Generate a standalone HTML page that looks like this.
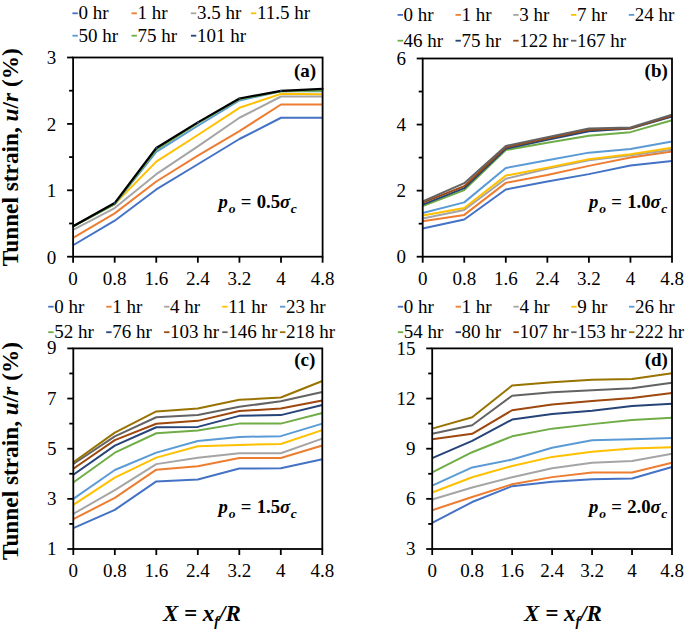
<!DOCTYPE html>
<html><head><meta charset="utf-8"><style>
html,body{margin:0;padding:0;background:#fff;}
svg{display:block;}
.t{font-family:"Liberation Serif",serif;font-size:19px;fill:#000;}
.b{font-family:"Liberation Serif",serif;font-size:19px;font-weight:bold;fill:#000;}
.ax{font-family:"Liberation Serif",serif;font-size:23.3px;font-weight:bold;fill:#000;}
.l{font-family:"Liberation Serif",serif;font-size:19px;fill:#000;}
.p{font-family:"Liberation Serif",serif;font-size:18.7px;font-weight:bold;fill:#000;}
</style></head><body>
<svg width="685" height="632" viewBox="0 0 685 632">
<rect width="685" height="632" fill="#fff"/>
<polyline points="73.1,245.25 114.68,220.68 156.27,189.47 197.85,164.24 239.43,139.01 281.02,117.76 322.6,117.76" fill="none" stroke="#4472C4" stroke-width="2.0" stroke-linejoin="round"/>
<polyline points="73.1,237.94 114.68,213.38 156.27,181.5 197.85,155.61 239.43,131.04 281.02,104.48 322.6,104.48" fill="none" stroke="#ED7D31" stroke-width="2.0" stroke-linejoin="round"/>
<polyline points="73.1,229.98 114.68,208.06 156.27,174.2 197.85,146.31 239.43,117.76 281.02,96.51 322.6,96.51" fill="none" stroke="#A5A5A5" stroke-width="2.0" stroke-linejoin="round"/>
<polyline points="73.1,226.32 114.68,204.08 156.27,161.58 197.85,135.02 239.43,107.8 281.02,93.86 322.6,94.19" fill="none" stroke="#FFC000" stroke-width="2.0" stroke-linejoin="round"/>
<polyline points="73.1,226.32 114.68,204.08 156.27,151.96 197.85,125.73 239.43,100.5 281.02,91.2 322.6,91.2" fill="none" stroke="#5B9BD5" stroke-width="2.0" stroke-linejoin="round"/>
<polyline points="73.1,226.32 114.68,204.08 156.27,149.63 197.85,123.07 239.43,99.17 281.02,91.2 322.6,90.54" fill="none" stroke="#70AD47" stroke-width="2.0" stroke-linejoin="round"/>
<polyline points="73.1,226.32 114.68,203.08 156.27,147.97 197.85,122.41 239.43,98.5 281.02,90.87 322.6,88.88" fill="none" stroke="#000000" stroke-width="2.2" stroke-linejoin="round"/>
<circle cx="73.1" cy="226.32" r="1.1" fill="#264478"/>
<circle cx="114.68" cy="203.08" r="1.1" fill="#264478"/>
<circle cx="156.27" cy="147.97" r="1.1" fill="#264478"/>
<circle cx="197.85" cy="122.41" r="1.1" fill="#264478"/>
<circle cx="239.43" cy="98.5" r="1.1" fill="#264478"/>
<circle cx="281.02" cy="90.87" r="1.1" fill="#264478"/>
<circle cx="322.6" cy="88.88" r="1.1" fill="#264478"/>
<rect x="73.1" y="57.5" width="249.5" height="199.2" fill="none" stroke="#000" stroke-width="1.8"/>
<line x1="67.1" y1="256.7" x2="73.1" y2="256.7" stroke="#000" stroke-width="1.8"/>
<line x1="69.1" y1="223.5" x2="73.1" y2="223.5" stroke="#000" stroke-width="1.8"/>
<line x1="67.1" y1="190.3" x2="73.1" y2="190.3" stroke="#000" stroke-width="1.8"/>
<line x1="69.1" y1="157.1" x2="73.1" y2="157.1" stroke="#000" stroke-width="1.8"/>
<line x1="67.1" y1="123.9" x2="73.1" y2="123.9" stroke="#000" stroke-width="1.8"/>
<line x1="69.1" y1="90.7" x2="73.1" y2="90.7" stroke="#000" stroke-width="1.8"/>
<line x1="67.1" y1="57.5" x2="73.1" y2="57.5" stroke="#000" stroke-width="1.8"/>
<line x1="73.1" y1="256.7" x2="73.1" y2="262.7" stroke="#000" stroke-width="1.8"/>
<line x1="114.68" y1="256.7" x2="114.68" y2="262.7" stroke="#000" stroke-width="1.8"/>
<line x1="156.27" y1="256.7" x2="156.27" y2="262.7" stroke="#000" stroke-width="1.8"/>
<line x1="197.85" y1="256.7" x2="197.85" y2="262.7" stroke="#000" stroke-width="1.8"/>
<line x1="239.43" y1="256.7" x2="239.43" y2="262.7" stroke="#000" stroke-width="1.8"/>
<line x1="281.02" y1="256.7" x2="281.02" y2="262.7" stroke="#000" stroke-width="1.8"/>
<line x1="322.6" y1="256.7" x2="322.6" y2="262.7" stroke="#000" stroke-width="1.8"/>
<text x="56.3" y="263.6" text-anchor="end" class="t">0</text>
<text x="56.3" y="197.2" text-anchor="end" class="t">1</text>
<text x="56.3" y="130.8" text-anchor="end" class="t">2</text>
<text x="56.3" y="64.4" text-anchor="end" class="t">3</text>
<text x="73.1" y="285" text-anchor="middle" class="t">0</text>
<text x="114.68" y="285" text-anchor="middle" class="t">0.8</text>
<text x="156.27" y="285" text-anchor="middle" class="t">1.6</text>
<text x="197.85" y="285" text-anchor="middle" class="t">2.4</text>
<text x="239.43" y="285" text-anchor="middle" class="t">3.2</text>
<text x="281.02" y="285" text-anchor="middle" class="t">4</text>
<text x="322.6" y="285" text-anchor="middle" class="t">4.8</text>
<line x1="72.4" y1="13.3" x2="77.8" y2="13.3" stroke="#4472C4" stroke-width="1.8"/>
<text x="78.4" y="19.3" class="l">0 hr</text>
<line x1="131.5" y1="13.3" x2="136.9" y2="13.3" stroke="#ED7D31" stroke-width="1.8"/>
<text x="137.5" y="19.3" class="l">1 hr</text>
<line x1="190.9" y1="13.3" x2="196.3" y2="13.3" stroke="#A5A5A5" stroke-width="1.8"/>
<text x="196.9" y="19.3" class="l">3.5 hr</text>
<line x1="250.9" y1="13.3" x2="256.3" y2="13.3" stroke="#FFC000" stroke-width="1.8"/>
<text x="256.9" y="19.3" class="l">11.5 hr</text>
<line x1="72.4" y1="35.7" x2="77.8" y2="35.7" stroke="#5B9BD5" stroke-width="1.8"/>
<text x="78.4" y="41.7" class="l">50 hr</text>
<line x1="131.5" y1="35.7" x2="136.9" y2="35.7" stroke="#70AD47" stroke-width="1.8"/>
<text x="137.5" y="41.7" class="l">75 hr</text>
<line x1="190.9" y1="35.7" x2="196.3" y2="35.7" stroke="#264478" stroke-width="1.8"/>
<text x="196.9" y="41.7" class="l">101 hr</text>
<text x="316.2" y="77" text-anchor="end" class="b">(a)</text>
<text x="218.4" y="207.5" class="p"><tspan font-style="italic">p</tspan><tspan font-style="italic" font-size="13.5" dx="1.1" dy="5.3">o</tspan><tspan dx="0.55" dy="-5.3"> =</tspan><tspan dx="0.55"> 0.5</tspan><tspan font-style="italic">σ</tspan><tspan font-style="italic" font-size="13.5" dx="0.7" dy="5.3">c</tspan></text>
<polyline points="422.7,228.46 464.25,219.54 505.8,189.48 547.35,181.55 588.9,174.12 630.45,165.53 672,160.9" fill="none" stroke="#4472C4" stroke-width="2.0" stroke-linejoin="round"/>
<polyline points="422.7,221.19 464.25,214.91 505.8,182.87 547.35,174.94 588.9,165.86 630.45,157.6 672,151.49" fill="none" stroke="#ED7D31" stroke-width="2.0" stroke-linejoin="round"/>
<polyline points="422.7,218.55 464.25,209.96 505.8,178.74 547.35,168.83 588.9,160.24 630.45,155.29 672,149.67" fill="none" stroke="#A5A5A5" stroke-width="2.0" stroke-linejoin="round"/>
<polyline points="422.7,215.57 464.25,207.98 505.8,175.6 547.35,167.68 588.9,159.25 630.45,154.3 672,147.69" fill="none" stroke="#FFC000" stroke-width="2.0" stroke-linejoin="round"/>
<polyline points="422.7,212.93 464.25,202.36 505.8,168.01 547.35,160.24 588.9,152.64 630.45,149.01 672,141.41" fill="none" stroke="#5B9BD5" stroke-width="2.0" stroke-linejoin="round"/>
<polyline points="422.7,205.99 464.25,190.14 505.8,150 547.35,142.74 588.9,135.8 630.45,132.16 672,120.27" fill="none" stroke="#70AD47" stroke-width="2.0" stroke-linejoin="round"/>
<polyline points="422.7,204.67 464.25,188.16 505.8,148.68 547.35,139.76 588.9,131.17 630.45,128.53 672,116.64" fill="none" stroke="#264478" stroke-width="2.0" stroke-linejoin="round"/>
<polyline points="422.7,202.69 464.25,186.17 505.8,147.19 547.35,138.28 588.9,129.85 630.45,128.2 672,115.65" fill="none" stroke="#9E480E" stroke-width="2.0" stroke-linejoin="round"/>
<polyline points="422.7,201.37 464.25,183.2 505.8,146.04 547.35,137.12 588.9,128.53 630.45,127.54 672,114.66" fill="none" stroke="#636363" stroke-width="2.0" stroke-linejoin="round"/>
<rect x="422.7" y="58.5" width="249.3" height="198.2" fill="none" stroke="#000" stroke-width="1.8"/>
<line x1="416.7" y1="256.7" x2="422.7" y2="256.7" stroke="#000" stroke-width="1.8"/>
<line x1="418.7" y1="223.67" x2="422.7" y2="223.67" stroke="#000" stroke-width="1.8"/>
<line x1="416.7" y1="190.63" x2="422.7" y2="190.63" stroke="#000" stroke-width="1.8"/>
<line x1="418.7" y1="157.6" x2="422.7" y2="157.6" stroke="#000" stroke-width="1.8"/>
<line x1="416.7" y1="124.57" x2="422.7" y2="124.57" stroke="#000" stroke-width="1.8"/>
<line x1="418.7" y1="91.53" x2="422.7" y2="91.53" stroke="#000" stroke-width="1.8"/>
<line x1="416.7" y1="58.5" x2="422.7" y2="58.5" stroke="#000" stroke-width="1.8"/>
<line x1="422.7" y1="256.7" x2="422.7" y2="262.7" stroke="#000" stroke-width="1.8"/>
<line x1="464.25" y1="256.7" x2="464.25" y2="262.7" stroke="#000" stroke-width="1.8"/>
<line x1="505.8" y1="256.7" x2="505.8" y2="262.7" stroke="#000" stroke-width="1.8"/>
<line x1="547.35" y1="256.7" x2="547.35" y2="262.7" stroke="#000" stroke-width="1.8"/>
<line x1="588.9" y1="256.7" x2="588.9" y2="262.7" stroke="#000" stroke-width="1.8"/>
<line x1="630.45" y1="256.7" x2="630.45" y2="262.7" stroke="#000" stroke-width="1.8"/>
<line x1="672" y1="256.7" x2="672" y2="262.7" stroke="#000" stroke-width="1.8"/>
<text x="405.9" y="262.8" text-anchor="end" class="t">0</text>
<text x="405.9" y="196.73" text-anchor="end" class="t">2</text>
<text x="405.9" y="130.67" text-anchor="end" class="t">4</text>
<text x="405.9" y="64.6" text-anchor="end" class="t">6</text>
<text x="422.7" y="285" text-anchor="middle" class="t">0</text>
<text x="464.25" y="285" text-anchor="middle" class="t">0.8</text>
<text x="505.8" y="285" text-anchor="middle" class="t">1.6</text>
<text x="547.35" y="285" text-anchor="middle" class="t">2.4</text>
<text x="588.9" y="285" text-anchor="middle" class="t">3.2</text>
<text x="630.45" y="285" text-anchor="middle" class="t">4</text>
<text x="672" y="285" text-anchor="middle" class="t">4.8</text>
<line x1="397.6" y1="14.9" x2="403" y2="14.9" stroke="#4472C4" stroke-width="1.8"/>
<text x="403.6" y="20.9" class="l">0 hr</text>
<line x1="455.5" y1="14.9" x2="460.9" y2="14.9" stroke="#ED7D31" stroke-width="1.8"/>
<text x="461.5" y="20.9" class="l">1 hr</text>
<line x1="513.2" y1="14.9" x2="518.6" y2="14.9" stroke="#A5A5A5" stroke-width="1.8"/>
<text x="519.2" y="20.9" class="l">3 hr</text>
<line x1="571" y1="14.9" x2="576.4" y2="14.9" stroke="#FFC000" stroke-width="1.8"/>
<text x="577" y="20.9" class="l">7 hr</text>
<line x1="628.8" y1="14.9" x2="634.2" y2="14.9" stroke="#5B9BD5" stroke-width="1.8"/>
<text x="634.8" y="20.9" class="l">24 hr</text>
<line x1="397.6" y1="40.7" x2="403" y2="40.7" stroke="#70AD47" stroke-width="1.8"/>
<text x="403.6" y="46.7" class="l">46 hr</text>
<line x1="455.5" y1="40.7" x2="460.9" y2="40.7" stroke="#264478" stroke-width="1.8"/>
<text x="461.5" y="46.7" class="l">75 hr</text>
<line x1="513.2" y1="40.7" x2="518.6" y2="40.7" stroke="#9E480E" stroke-width="1.8"/>
<text x="519.2" y="46.7" class="l">122 hr</text>
<line x1="571" y1="40.7" x2="576.4" y2="40.7" stroke="#636363" stroke-width="1.8"/>
<text x="577" y="46.7" class="l">167 hr</text>
<text x="667.8" y="77" text-anchor="end" class="b">(b)</text>
<text x="588.9" y="207.5" class="p"><tspan font-style="italic">p</tspan><tspan font-style="italic" font-size="13.5" dx="1.1" dy="5.3">o</tspan><tspan dx="0.55" dy="-5.3"> =</tspan><tspan dx="0.55"> 1.0</tspan><tspan font-style="italic">σ</tspan><tspan font-style="italic" font-size="13.5" dx="0.7" dy="5.3">c</tspan></text>
<polyline points="73.3,528.19 114.8,509.88 156.3,481.42 197.8,479.54 239.3,468.51 280.8,468.26 322.3,459.23" fill="none" stroke="#4472C4" stroke-width="2.0" stroke-linejoin="round"/>
<polyline points="73.3,519.16 114.8,497.85 156.3,469.64 197.8,466.25 239.3,457.98 280.8,457.98 322.3,445.44" fill="none" stroke="#ED7D31" stroke-width="2.0" stroke-linejoin="round"/>
<polyline points="73.3,513.89 114.8,490.07 156.3,464.12 197.8,457.73 239.3,453.21 280.8,453.21 322.3,438.67" fill="none" stroke="#A5A5A5" stroke-width="2.0" stroke-linejoin="round"/>
<polyline points="73.3,504.87 114.8,477.54 156.3,457.6 197.8,446.19 239.3,444.94 280.8,443.94 322.3,430.14" fill="none" stroke="#FFC000" stroke-width="2.0" stroke-linejoin="round"/>
<polyline points="73.3,498.85 114.8,470.01 156.3,452.59 197.8,440.93 239.3,436.91 280.8,436.16 322.3,423.62" fill="none" stroke="#5B9BD5" stroke-width="2.0" stroke-linejoin="round"/>
<polyline points="73.3,482.55 114.8,452.71 156.3,433.28 197.8,430.4 239.3,423.62 280.8,423.62 322.3,413.09" fill="none" stroke="#70AD47" stroke-width="2.0" stroke-linejoin="round"/>
<polyline points="73.3,474.78 114.8,445.69 156.3,427.26 197.8,426.88 239.3,415.85 280.8,415.1 322.3,405.07" fill="none" stroke="#264478" stroke-width="2.0" stroke-linejoin="round"/>
<polyline points="73.3,468.76 114.8,440.17 156.3,423.75 197.8,420.87 239.3,411.09 280.8,408.58 322.3,400.56" fill="none" stroke="#9E480E" stroke-width="2.0" stroke-linejoin="round"/>
<polyline points="73.3,464 114.8,436.41 156.3,417.23 197.8,415.1 239.3,406.82 280.8,401.31 322.3,392.03" fill="none" stroke="#636363" stroke-width="2.0" stroke-linejoin="round"/>
<polyline points="73.3,462.24 114.8,432.65 156.3,411.46 197.8,408.58 239.3,399.8 280.8,397.55 322.3,381" fill="none" stroke="#997300" stroke-width="2.0" stroke-linejoin="round"/>
<rect x="73.3" y="348.4" width="249" height="200.6" fill="none" stroke="#000" stroke-width="1.8"/>
<line x1="67.3" y1="549" x2="73.3" y2="549" stroke="#000" stroke-width="1.8"/>
<line x1="69.3" y1="523.92" x2="73.3" y2="523.92" stroke="#000" stroke-width="1.8"/>
<line x1="67.3" y1="498.85" x2="73.3" y2="498.85" stroke="#000" stroke-width="1.8"/>
<line x1="69.3" y1="473.77" x2="73.3" y2="473.77" stroke="#000" stroke-width="1.8"/>
<line x1="67.3" y1="448.7" x2="73.3" y2="448.7" stroke="#000" stroke-width="1.8"/>
<line x1="69.3" y1="423.62" x2="73.3" y2="423.62" stroke="#000" stroke-width="1.8"/>
<line x1="67.3" y1="398.55" x2="73.3" y2="398.55" stroke="#000" stroke-width="1.8"/>
<line x1="69.3" y1="373.47" x2="73.3" y2="373.47" stroke="#000" stroke-width="1.8"/>
<line x1="67.3" y1="348.4" x2="73.3" y2="348.4" stroke="#000" stroke-width="1.8"/>
<line x1="73.3" y1="549" x2="73.3" y2="555" stroke="#000" stroke-width="1.8"/>
<line x1="114.8" y1="549" x2="114.8" y2="555" stroke="#000" stroke-width="1.8"/>
<line x1="156.3" y1="549" x2="156.3" y2="555" stroke="#000" stroke-width="1.8"/>
<line x1="197.8" y1="549" x2="197.8" y2="555" stroke="#000" stroke-width="1.8"/>
<line x1="239.3" y1="549" x2="239.3" y2="555" stroke="#000" stroke-width="1.8"/>
<line x1="280.8" y1="549" x2="280.8" y2="555" stroke="#000" stroke-width="1.8"/>
<line x1="322.3" y1="549" x2="322.3" y2="555" stroke="#000" stroke-width="1.8"/>
<text x="56.5" y="555" text-anchor="end" class="t">1</text>
<text x="56.5" y="504.85" text-anchor="end" class="t">3</text>
<text x="56.5" y="454.7" text-anchor="end" class="t">5</text>
<text x="56.5" y="404.55" text-anchor="end" class="t">7</text>
<text x="56.5" y="354.4" text-anchor="end" class="t">9</text>
<text x="73.3" y="577.4" text-anchor="middle" class="t">0</text>
<text x="114.8" y="577.4" text-anchor="middle" class="t">0.8</text>
<text x="156.3" y="577.4" text-anchor="middle" class="t">1.6</text>
<text x="197.8" y="577.4" text-anchor="middle" class="t">2.4</text>
<text x="239.3" y="577.4" text-anchor="middle" class="t">3.2</text>
<text x="280.8" y="577.4" text-anchor="middle" class="t">4</text>
<text x="322.3" y="577.4" text-anchor="middle" class="t">4.8</text>
<line x1="48.2" y1="306.7" x2="53.6" y2="306.7" stroke="#4472C4" stroke-width="1.8"/>
<text x="54.2" y="312.7" class="l">0 hr</text>
<line x1="106.2" y1="306.7" x2="111.6" y2="306.7" stroke="#ED7D31" stroke-width="1.8"/>
<text x="112.2" y="312.7" class="l">1 hr</text>
<line x1="164.1" y1="306.7" x2="169.5" y2="306.7" stroke="#A5A5A5" stroke-width="1.8"/>
<text x="170.1" y="312.7" class="l">4 hr</text>
<line x1="222.2" y1="306.7" x2="227.6" y2="306.7" stroke="#FFC000" stroke-width="1.8"/>
<text x="228.2" y="312.7" class="l">11 hr</text>
<line x1="280" y1="306.7" x2="285.4" y2="306.7" stroke="#5B9BD5" stroke-width="1.8"/>
<text x="286" y="312.7" class="l">23 hr</text>
<line x1="48.2" y1="332.2" x2="53.6" y2="332.2" stroke="#70AD47" stroke-width="1.8"/>
<text x="54.2" y="338.2" class="l">52 hr</text>
<line x1="106.2" y1="332.2" x2="111.6" y2="332.2" stroke="#264478" stroke-width="1.8"/>
<text x="112.2" y="338.2" class="l">76 hr</text>
<line x1="164.1" y1="332.2" x2="169.5" y2="332.2" stroke="#9E480E" stroke-width="1.8"/>
<text x="170.1" y="338.2" class="l">103 hr</text>
<line x1="222.2" y1="332.2" x2="227.6" y2="332.2" stroke="#636363" stroke-width="1.8"/>
<text x="228.2" y="338.2" class="l">146 hr</text>
<line x1="280" y1="332.2" x2="285.4" y2="332.2" stroke="#997300" stroke-width="1.8"/>
<text x="286" y="338.2" class="l">218 hr</text>
<text x="315.4" y="366" text-anchor="end" class="b">(c)</text>
<text x="218.4" y="513" class="p"><tspan font-style="italic">p</tspan><tspan font-style="italic" font-size="13.5" dx="1.1" dy="5.3">o</tspan><tspan dx="0.55" dy="-5.3"> =</tspan><tspan dx="0.55"> 1.5</tspan><tspan font-style="italic">σ</tspan><tspan font-style="italic" font-size="13.5" dx="0.7" dy="5.3">c</tspan></text>
<polyline points="432.2,522.92 472.17,502.02 512.13,486.14 552.1,481.8 592.07,479.29 632.03,478.45 672,466.92" fill="none" stroke="#4472C4" stroke-width="2.0" stroke-linejoin="round"/>
<polyline points="432.2,510.22 472.17,497.01 512.13,484.31 552.1,477.12 592.07,472.44 632.03,472.44 672,462.74" fill="none" stroke="#ED7D31" stroke-width="2.0" stroke-linejoin="round"/>
<polyline points="432.2,499.52 472.17,487.48 512.13,477.28 552.1,468.26 592.07,462.74 632.03,460.9 672,453.71" fill="none" stroke="#A5A5A5" stroke-width="2.0" stroke-linejoin="round"/>
<polyline points="432.2,492.5 472.17,477.28 512.13,465.92 552.1,456.89 592.07,451.71 632.03,448.53 672,447.19" fill="none" stroke="#FFC000" stroke-width="2.0" stroke-linejoin="round"/>
<polyline points="432.2,485.64 472.17,467.42 512.13,459.56 552.1,447.7 592.07,440.17 632.03,439.17 672,438" fill="none" stroke="#5B9BD5" stroke-width="2.0" stroke-linejoin="round"/>
<polyline points="432.2,472.44 472.17,452.21 512.13,436.33 552.1,428.64 592.07,424.12 632.03,420.11 672,417.77" fill="none" stroke="#70AD47" stroke-width="2.0" stroke-linejoin="round"/>
<polyline points="432.2,458.06 472.17,440.84 512.13,419.61 552.1,414.1 592.07,410.75 632.03,406.07 672,403.73" fill="none" stroke="#264478" stroke-width="2.0" stroke-linejoin="round"/>
<polyline points="432.2,439.34 472.17,433.82 512.13,410.25 552.1,404.4 592.07,401.06 632.03,398.05 672,393.03" fill="none" stroke="#9E480E" stroke-width="2.0" stroke-linejoin="round"/>
<polyline points="432.2,433.82 472.17,425.3 512.13,395.71 552.1,392.36 592.07,390.36 632.03,388.18 672,382.67" fill="none" stroke="#636363" stroke-width="2.0" stroke-linejoin="round"/>
<polyline points="432.2,428.64 472.17,417.27 512.13,385.51 552.1,382.17 592.07,379.83 632.03,378.99 672,373.14" fill="none" stroke="#997300" stroke-width="2.0" stroke-linejoin="round"/>
<rect x="432.2" y="348.4" width="239.8" height="200.6" fill="none" stroke="#000" stroke-width="1.8"/>
<line x1="426.2" y1="549" x2="432.2" y2="549" stroke="#000" stroke-width="1.8"/>
<line x1="428.2" y1="523.92" x2="432.2" y2="523.92" stroke="#000" stroke-width="1.8"/>
<line x1="426.2" y1="498.85" x2="432.2" y2="498.85" stroke="#000" stroke-width="1.8"/>
<line x1="428.2" y1="473.77" x2="432.2" y2="473.77" stroke="#000" stroke-width="1.8"/>
<line x1="426.2" y1="448.7" x2="432.2" y2="448.7" stroke="#000" stroke-width="1.8"/>
<line x1="428.2" y1="423.62" x2="432.2" y2="423.62" stroke="#000" stroke-width="1.8"/>
<line x1="426.2" y1="398.55" x2="432.2" y2="398.55" stroke="#000" stroke-width="1.8"/>
<line x1="428.2" y1="373.48" x2="432.2" y2="373.48" stroke="#000" stroke-width="1.8"/>
<line x1="426.2" y1="348.4" x2="432.2" y2="348.4" stroke="#000" stroke-width="1.8"/>
<line x1="432.2" y1="549" x2="432.2" y2="555" stroke="#000" stroke-width="1.8"/>
<line x1="472.17" y1="549" x2="472.17" y2="555" stroke="#000" stroke-width="1.8"/>
<line x1="512.13" y1="549" x2="512.13" y2="555" stroke="#000" stroke-width="1.8"/>
<line x1="552.1" y1="549" x2="552.1" y2="555" stroke="#000" stroke-width="1.8"/>
<line x1="592.07" y1="549" x2="592.07" y2="555" stroke="#000" stroke-width="1.8"/>
<line x1="632.03" y1="549" x2="632.03" y2="555" stroke="#000" stroke-width="1.8"/>
<line x1="672" y1="549" x2="672" y2="555" stroke="#000" stroke-width="1.8"/>
<text x="415.4" y="555.3" text-anchor="end" class="t">3</text>
<text x="415.4" y="505.15" text-anchor="end" class="t">6</text>
<text x="415.4" y="455" text-anchor="end" class="t">9</text>
<text x="415.4" y="404.85" text-anchor="end" class="t">12</text>
<text x="415.4" y="354.7" text-anchor="end" class="t">15</text>
<text x="432.2" y="577.4" text-anchor="middle" class="t">0</text>
<text x="472.17" y="577.4" text-anchor="middle" class="t">0.8</text>
<text x="512.13" y="577.4" text-anchor="middle" class="t">1.6</text>
<text x="552.1" y="577.4" text-anchor="middle" class="t">2.4</text>
<text x="592.07" y="577.4" text-anchor="middle" class="t">3.2</text>
<text x="632.03" y="577.4" text-anchor="middle" class="t">4</text>
<text x="672" y="577.4" text-anchor="middle" class="t">4.8</text>
<line x1="397.8" y1="306.7" x2="403.2" y2="306.7" stroke="#4472C4" stroke-width="1.8"/>
<text x="403.8" y="312.7" class="l">0 hr</text>
<line x1="455.6" y1="306.7" x2="461" y2="306.7" stroke="#ED7D31" stroke-width="1.8"/>
<text x="461.6" y="312.7" class="l">1 hr</text>
<line x1="513.4" y1="306.7" x2="518.8" y2="306.7" stroke="#A5A5A5" stroke-width="1.8"/>
<text x="519.4" y="312.7" class="l">4 hr</text>
<line x1="571.2" y1="306.7" x2="576.6" y2="306.7" stroke="#FFC000" stroke-width="1.8"/>
<text x="577.2" y="312.7" class="l">9 hr</text>
<line x1="629" y1="306.7" x2="634.4" y2="306.7" stroke="#5B9BD5" stroke-width="1.8"/>
<text x="635" y="312.7" class="l">26 hr</text>
<line x1="397.8" y1="332.2" x2="403.2" y2="332.2" stroke="#70AD47" stroke-width="1.8"/>
<text x="403.8" y="338.2" class="l">54 hr</text>
<line x1="455.6" y1="332.2" x2="461" y2="332.2" stroke="#264478" stroke-width="1.8"/>
<text x="461.6" y="338.2" class="l">80 hr</text>
<line x1="513.4" y1="332.2" x2="518.8" y2="332.2" stroke="#9E480E" stroke-width="1.8"/>
<text x="519.4" y="338.2" class="l">107 hr</text>
<line x1="571.2" y1="332.2" x2="576.6" y2="332.2" stroke="#636363" stroke-width="1.8"/>
<text x="577.2" y="338.2" class="l">153 hr</text>
<line x1="629" y1="332.2" x2="634.4" y2="332.2" stroke="#997300" stroke-width="1.8"/>
<text x="635" y="338.2" class="l">222 hr</text>
<text x="667.9" y="366" text-anchor="end" class="b">(d)</text>
<text x="588.9" y="513" class="p"><tspan font-style="italic">p</tspan><tspan font-style="italic" font-size="13.5" dx="1.1" dy="5.3">o</tspan><tspan dx="0.55" dy="-5.3"> =</tspan><tspan dx="0.55"> 2.0</tspan><tspan font-style="italic">σ</tspan><tspan font-style="italic" font-size="13.5" dx="0.7" dy="5.3">c</tspan></text>
<text transform="translate(17.6,157.2) rotate(-90)" text-anchor="middle" class="ax">Tunnel strain, <tspan font-style="italic">u</tspan>/<tspan font-style="italic">r</tspan> (%)</text>
<text transform="translate(17.6,451) rotate(-90)" text-anchor="middle" class="ax">Tunnel strain, <tspan font-style="italic">u</tspan>/<tspan font-style="italic">r</tspan> (%)</text>
<text x="162.9" y="620.5" class="ax" style="font-size:23px" font-style="italic">X = x<tspan font-size="14" dy="5">f</tspan><tspan dy="-5">/R</tspan></text>
<text x="524.1" y="620.5" class="ax" style="font-size:23px" font-style="italic">X = x<tspan font-size="14" dy="5">f</tspan><tspan dy="-5">/R</tspan></text>
</svg>
</body></html>
